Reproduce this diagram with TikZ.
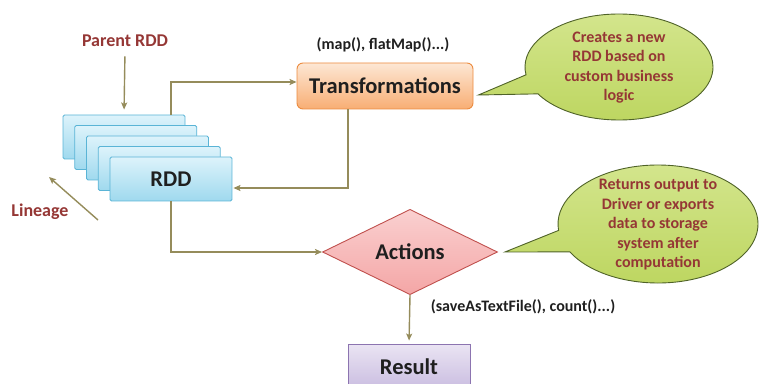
\documentclass[tikz,border=0pt]{standalone}
\usepackage{fontspec}
\setmainfont{Carlito}
\usetikzlibrary{shapes.geometric,shapes.callouts,arrows.meta}
\definecolor{flowline}{HTML}{958C5B}
\definecolor{labelred}{HTML}{953735}
\definecolor{textdark}{HTML}{1F1F1F}
\definecolor{rddtop}{HTML}{DDF3FB}
\definecolor{rddbot}{HTML}{9FD9EE}
\definecolor{rddline}{HTML}{5AB4D6}
\definecolor{transtop}{HTML}{FDE7D4}
\definecolor{transbot}{HTML}{F8AE74}
\definecolor{transline}{HTML}{EC8B3F}
\definecolor{acttop}{HTML}{FAD0D0}
\definecolor{actbot}{HTML}{F4A6A6}
\definecolor{actline}{HTML}{C0504D}
\definecolor{restop}{HTML}{EAE4F3}
\definecolor{resbot}{HTML}{C9BCE0}
\definecolor{resline}{HTML}{8C74B0}
\definecolor{notetop}{HTML}{D3E58C}
\definecolor{notebot}{HTML}{BCD55E}
\definecolor{noteline}{HTML}{4F6228}
\begin{document}
\begin{tikzpicture}[x=1pt,y=1pt,
	flow/.style={draw=flowline, line width=1.4pt, -{Stealth[length=7pt,width=6pt,inset=1.5pt]}},
	bigtext/.style={font=\fontsize{22.5}{27}\selectfont\bfseries, text=textdark},
	smalltext/.style={font=\fontsize{16}{19.5}\selectfont\bfseries, text=textdark},
	redtext/.style={font=\fontsize{18}{21}\selectfont\bfseries, text=labelred},
	rddbox/.style={draw=rddline, line width=0.9pt, top color=rddtop, bottom color=rddbot, minimum width=122pt, minimum height=44pt, inner sep=0pt, rounded corners=1.5pt},
	transbox/.style={draw=transline, line width=0.9pt, top color=transtop, bottom color=transbot, minimum width=176pt, minimum height=46pt, rounded corners=6pt},
	actbox/.style={diamond, draw=actline, line width=0.9pt, top color=acttop, bottom color=actbot, minimum width=175pt, minimum height=66pt, inner sep=0pt},
	resbox/.style={draw=resline, line width=0.9pt, top color=restop, bottom color=resbot, minimum width=122pt, minimum height=46pt},
	note/.style={ellipse callout, draw=noteline, line width=0.9pt, top color=notetop, bottom color=notebot, callout pointer arc=22, inner sep=0pt, text=labelred, font=\fontsize{16}{19.5}\selectfont\bfseries}]
	\useasboundingbox (0,0) rectangle (760,383);

	% stack of RDDs, back to front
	\foreach \k in {0,...,3}
		\node[rddbox] (rdd\k) at (124+11.75*\k, 246-10.5*\k) {};
	\node[rddbox, bigtext] (rdd4) at (171,204) {RDD};

	\node[redtext] (parent) at (125,342) {Parent RDD};
	\draw[flow, shorten <=6pt, shorten >=5pt] (parent.south) -- (rdd0.north);

	\node[redtext] (lineage) at (40,171) {Lineage};
	\coordinate (lintail) at (98,163);
	\coordinate (linhead) at (49,206);
	\draw[flow] (lintail) -- (linhead);

	% transformations
	\node[transbox, bigtext] (trans) at (385,297) {Transformations};
	\node[smalltext] (translbl) at (383,338) {(map(), flatMap()...)};
	\draw[flow] (rdd4.center |- rdd0.north) |- ([yshift=4pt]trans.west);
	\draw[flow, shorten >=1pt] ([xshift=-37pt]trans.south) |- ([yshift=-9pt]rdd4.east);

	% actions
	\node[actbox, bigtext] (act) at (410,131) {Actions};
	\draw[flow] (rdd4.south) |- (act.west);
	\node[smalltext] (actlbl) at (523,76) {(saveAsTextFile(), count()...)};

	\node[resbox, bigtext] (res) at (409,16) {Result};
	\draw[flow, shorten >=3pt] (act.south) -- (res.north);

	% callouts
	\node[note, minimum width=188pt, minimum height=106pt, callout absolute pointer={([xshift=5pt,yshift=-9pt]trans.east)}] (note1) at (619,316)
		{\smash{\lower5pt\hbox{\begin{tabular}{@{}c@{}}Creates a new\\RDD based on\\custom business\\logic\end{tabular}}}};
	\node[note, minimum width=200pt, minimum height=118pt, callout absolute pointer={([xshift=7pt]act.east)}] (note2) at (658,159)
		{\smash{\lower5pt\hbox{\begin{tabular}{@{}c@{}}Returns output to\\Driver or exports\\data to storage\\system after\\computation\end{tabular}}}};
\end{tikzpicture}
\end{document}
